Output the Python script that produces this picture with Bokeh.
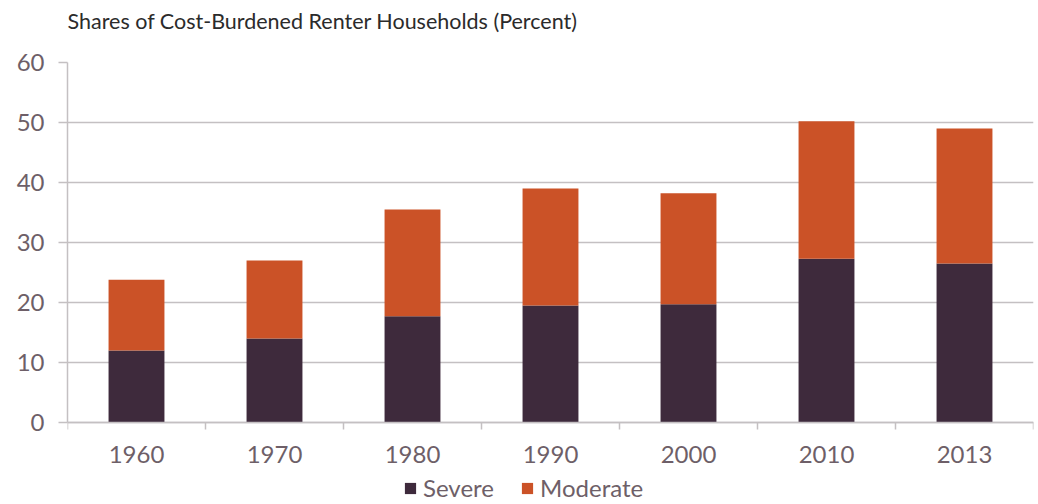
from bokeh.plotting import figure
from bokeh.models import ColumnDataSource, FixedTicker, Range1d, Legend, LegendItem, Title
from bokeh.embed import file_html
from bokeh.resources import INLINE

years = ["1960", "1970", "1980", "1990", "2000", "2010", "2013"]
severe = [12.0, 14.0, 17.7, 19.5, 19.7, 27.3, 26.5]
moderate = [11.8, 13.0, 17.8, 19.5, 18.5, 22.9, 22.5]
y_ticks = [0, 10, 20, 30, 40, 50, 60]
title_text = "Shares of Cost-Burdened Renter Households (Percent)"

FONT = "Lato"
TXT = "#6E5F68"
GRID = "#C4C0C2"
SEV_COLOR = "#3E2A3C"
MOD_COLOR = "#CB5227"

pos = [i + 0.5 for i in range(len(years))]
src = ColumnDataSource(dict(x=pos, year=years, severe=severe, moderate=moderate))

# frame extends below zero so the legend can sit inside it (6 px per unit)
p = figure(frame_width=966, frame_height=440, output_backend="svg", toolbar_location=None,
           x_range=Range1d(0, 7), y_range=Range1d(60 - 440 / 6, 60),
           min_border_left=67, min_border_right=2, min_border_top=62, min_border_bottom=0,
           outline_line_color=None)
p.title = None

# spacer between frame and title, then the title itself
p.add_layout(Title(text=" ", text_font_size="1px", standoff=22), "above")
p.add_layout(Title(text=title_text, text_font=FONT, text_font_size="21.5px",
                   text_font_style="normal", text_color="#2b2b2b", align="left",
                   vertical_align="top", offset=0, standoff=4), "above")

r = p.vbar_stack(["severe", "moderate"], x="x", width=0.405, source=src,
                 color=[SEV_COLOR, MOD_COLOR], line_color=None)

# x axis, pinned at y = 0
p.xaxis.fixed_location = 0
p.xaxis.ticker = FixedTicker(ticks=pos, minor_ticks=list(range(len(years) + 1)))
p.xaxis.major_label_overrides = {x: y for x, y in zip(pos, years)}
p.xaxis.major_tick_line_color = None
p.xaxis.minor_tick_line_color = GRID
p.xaxis.minor_tick_line_width = 1.5
p.xaxis.minor_tick_in = 0
p.xaxis.minor_tick_out = 7
p.xaxis.axis_line_color = GRID
p.xaxis.axis_line_width = 1.5
p.xaxis.major_label_text_font = FONT
p.xaxis.major_label_text_font_size = "24px"
p.xaxis.major_label_text_color = TXT
p.xaxis.major_label_standoff = 16

# y axis
p.yaxis.bounds = (0, 60)
p.yaxis.ticker = FixedTicker(ticks=y_ticks)
p.yaxis.minor_tick_line_color = None
p.yaxis.major_tick_line_color = GRID
p.yaxis.major_tick_line_width = 1.5
p.yaxis.major_tick_in = 0
p.yaxis.major_tick_out = 9
p.yaxis.axis_line_color = GRID
p.yaxis.axis_line_width = 1.5
p.yaxis.major_label_text_font = FONT
p.yaxis.major_label_text_font_size = "24px"
p.yaxis.major_label_text_color = TXT
p.yaxis.major_label_standoff = 14

p.xgrid.grid_line_color = None
p.ygrid.grid_line_color = GRID
p.ygrid.grid_line_width = 1.5
p.ygrid.ticker = FixedTicker(ticks=y_ticks)

legend = Legend(items=[LegendItem(label="Severe", renderers=[r[0]]),
                       LegendItem(label="Moderate", renderers=[r[1]])],
                orientation="horizontal", location=(336, 0),
                label_text_font=FONT, label_text_font_size="24px", label_text_color=TXT,
                label_height=14, glyph_width=14, glyph_height=14, spacing=26, label_standoff=6,
                padding=0, margin=0, border_line_color=None, background_fill_alpha=0)
p.add_layout(legend)

open("out.html", "w").write(file_html(p, INLINE))
